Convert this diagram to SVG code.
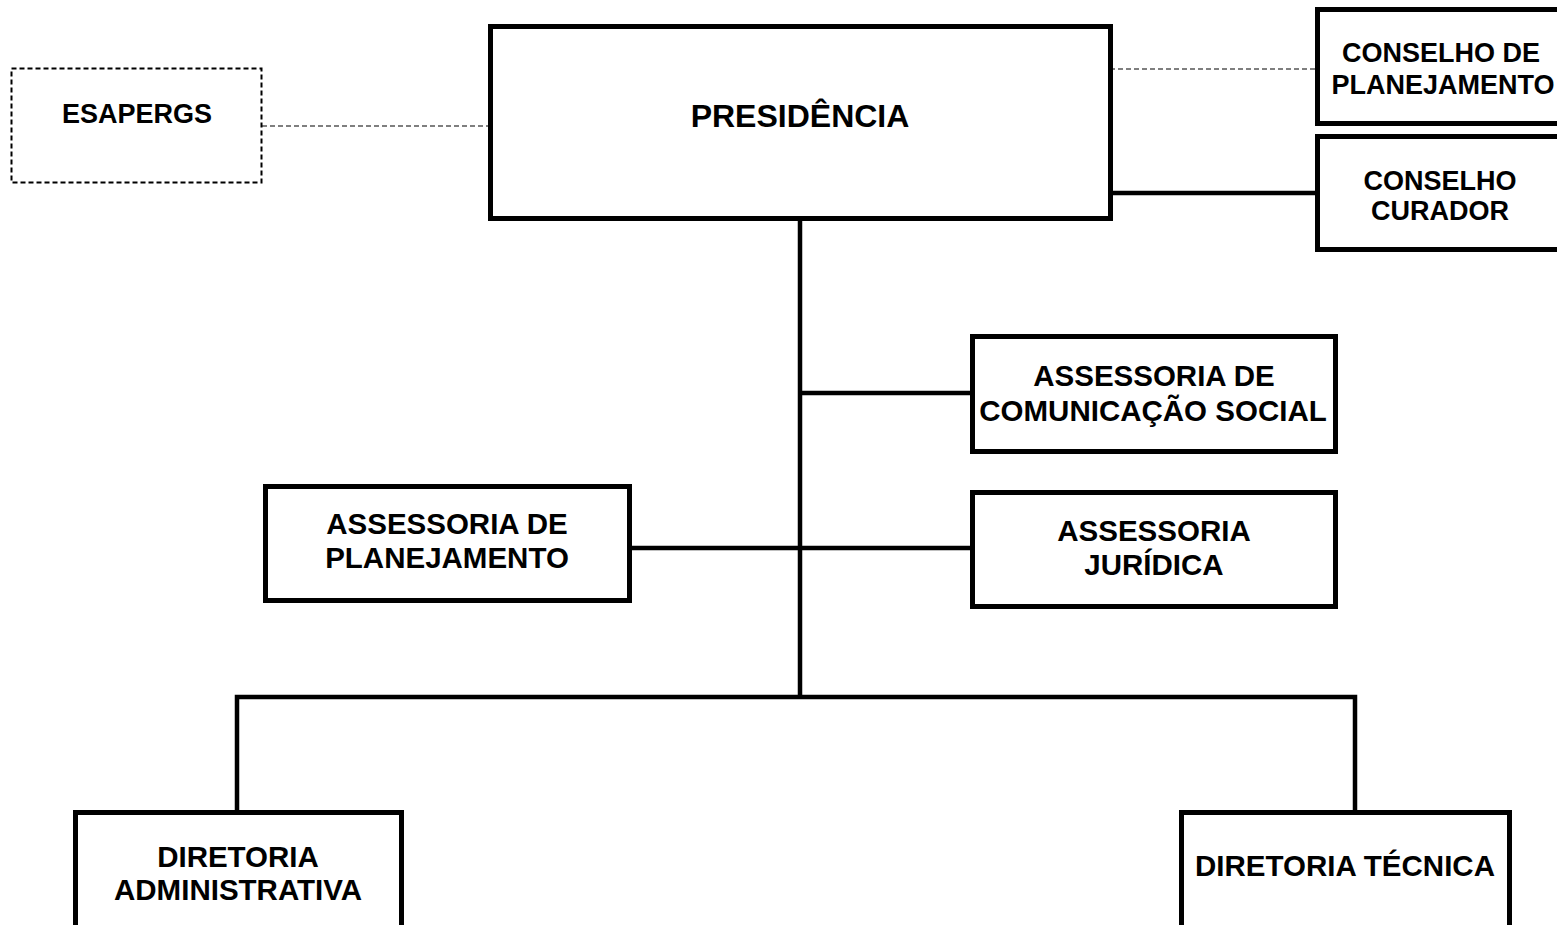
<svg xmlns="http://www.w3.org/2000/svg" width="1557" height="925" viewBox="0 0 1557 925">
<style>
.box{fill:#fff;stroke:#000;stroke-width:5}
.dbox{fill:#fff;stroke:#000;stroke-width:2;stroke-dasharray:5 3}
.ln{stroke:#000;stroke-width:4.5;fill:none}
.dl{stroke:#000;stroke-width:1.2;stroke-dasharray:5 3;fill:none}
text{font-family:"Liberation Sans",Arial,sans-serif;font-weight:bold;fill:#000;text-anchor:middle}
.t29{font-size:29.5px}
.t26{font-size:27px}
</style>
<rect width="1557" height="925" fill="#fff"/>
<g id="connectors">
<line class="dl" x1="262" y1="126" x2="490" y2="126"/>
<line class="dl" x1="1110" y1="69" x2="1316" y2="69"/>
<line class="ln" x1="1110" y1="193" x2="1316" y2="193"/>
<line class="ln" x1="800" y1="219" x2="800" y2="697"/>
<line class="ln" x1="800" y1="393" x2="972" y2="393"/>
<line class="ln" x1="630" y1="548" x2="972" y2="548"/>
<polyline class="ln" points="237,810 237,697 1355,697 1355,810"/>
</g>
<g id="esapergs">
<rect class="dbox" x="11.5" y="68.5" width="250" height="114"/>
<text class="t26" x="137" y="123">ESAPERGS</text>
</g>
<g id="presidencia">
<rect class="box" x="490.5" y="26.5" width="620" height="192"/>
<text x="800" y="127" style="font-size:32px">PRESIDÊNCIA</text>
</g>
<g id="conselho-planejamento">
<rect class="box" x="1317.5" y="9.5" width="250" height="114"/>
<text class="t26" x="1441" y="62">CONSELHO DE</text>
<text class="t26" x="1443" y="94">PLANEJAMENTO</text>
</g>
<g id="conselho-curador">
<rect class="box" x="1317.5" y="136.5" width="250" height="113"/>
<text class="t26" x="1440" y="190">CONSELHO</text>
<text class="t26" x="1440" y="220">CURADOR</text>
</g>
<g id="assessoria-comunicacao">
<rect class="box" x="972.5" y="336.5" width="363" height="115"/>
<text class="t29" x="1154" y="386">ASSESSORIA DE</text>
<text class="t29" x="1153" y="421">COMUNICAÇÃO SOCIAL</text>
</g>
<g id="assessoria-juridica">
<rect class="box" x="972.5" y="492.5" width="363" height="114"/>
<text class="t29" x="1154" y="541">ASSESSORIA</text>
<text class="t29" x="1154" y="575">JURÍDICA</text>
</g>
<g id="assessoria-planejamento">
<rect class="box" x="265.5" y="486.5" width="364" height="114"/>
<text class="t29" x="447" y="534">ASSESSORIA DE</text>
<text class="t29" x="447" y="568">PLANEJAMENTO</text>
</g>
<g id="diretoria-administrativa">
<rect class="box" x="75.5" y="812.5" width="326" height="130"/>
<text class="t29" x="238" y="867">DIRETORIA</text>
<text class="t29" x="238" y="900">ADMINISTRATIVA</text>
</g>
<g id="diretoria-tecnica">
<rect class="box" x="1181.5" y="812.5" width="328" height="130"/>
<text class="t29" x="1345" y="876">DIRETORIA TÉCNICA</text>
</g>
</svg>
